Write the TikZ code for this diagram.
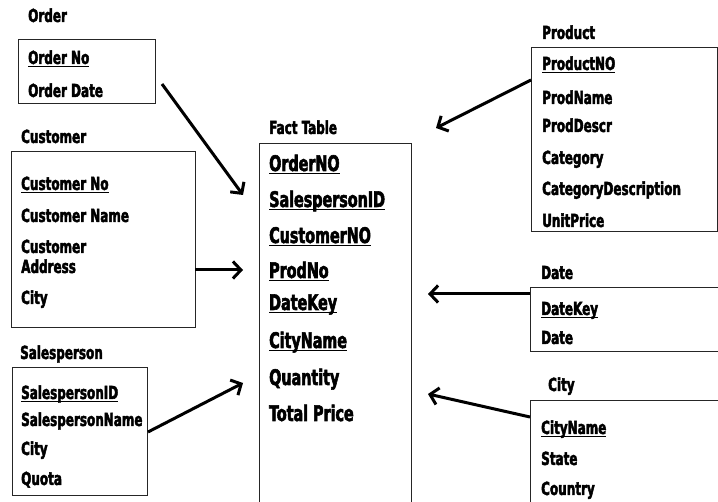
\documentclass[tikz,border=0pt]{standalone}
\usepackage{fontspec}
\setmainfont{DejaVu Sans Condensed}[FakeStretch=0.74, BoldFeatures={FakeBold=2.5}]
\usetikzlibrary{arrows.meta}
% underlined key attribute
\newcommand\keyattr[1]{\setbox0\hbox{#1}\rlap{\rule[-3pt]{\wd0}{1.3pt}}\box0}
\begin{document}
\begin{tikzpicture}[x=1pt,y=-1pt,
  lbl/.style={anchor=base west, inner sep=0pt, font=\bfseries\fontsize{18}{20}\selectfont},
  big/.style={anchor=base west, inner sep=0pt, font=\bfseries\fontsize{21.5}{23}\selectfont},
  tbl/.style={draw=black!85, line width=1pt, anchor=north west, inner sep=0pt, outer sep=0pt},
  link/.style={line width=3pt, -{Straight Barb[length=8pt,width=17pt]}}]
\useasboundingbox (0,0) rectangle (718,502);
\clip (0,0) rectangle (718,502);

% table frames
\node[tbl, minimum width=137pt, minimum height=64pt] (orderbox) at (18,40) {};
\node[tbl, minimum width=184pt, minimum height=176pt] (custbox) at (11,152) {};
\node[tbl, minimum width=135pt, minimum height=128pt] (salesbox) at (12,368) {};
\node[tbl, minimum width=152pt, minimum height=380pt] (factbox) at (259,144) {};
\node[tbl, minimum width=186pt, minimum height=184pt] (prodbox) at (531,48) {};
\node[tbl, minimum width=190pt, minimum height=64pt] (datebox) at (530,288) {};
\node[tbl, minimum width=190pt, minimum height=120pt] (citybox) at (530,401) {};

% Order
\node[lbl] (ordert) at (28,22) {Order};
\node[lbl] (order1) at (28,64) {\keyattr{Order No}};
\node[lbl] (order2) at (28,97) {Order Date};

% Customer
\node[lbl] (custt) at (21,143) {Customer};
\node[lbl] (cust1) at (21,190) {\keyattr{Customer No}};
\node[lbl] (cust2) at (21,222) {Customer Name};
\node[lbl] (cust3) at (21,253) {Customer};
\node[lbl] (cust3b) at (21,273) {Address};
\node[lbl] (cust4) at (21,304) {City};

% Salesperson
\node[lbl] (salest) at (20,359) {Salesperson};
\node[lbl] (sales1) at (21,399) {\keyattr{SalespersonID}};
\node[lbl] (sales2) at (21,426) {SalespersonName};
\node[lbl] (sales3) at (21,455) {City};
\node[lbl] (sales4) at (21,485) {Quota};

% Fact Table
\node[lbl] (factt) at (269,134) {Fact Table};
\node[big] (fact1) at (269,171) {\keyattr{OrderNO}};
\node[big] (fact2) at (269,207) {\keyattr{SalespersonID}};
\node[big] (fact3) at (269,243) {\keyattr{CustomerNO}};
\node[big] (fact4) at (269,278) {\keyattr{ProdNo}};
\node[big] (fact5) at (269,310) {\keyattr{DateKey}};
\node[big] (fact6) at (269,348) {\keyattr{CityName}};
\node[big] (fact7) at (269,385) {Quantity};
\node[big] (fact8) at (269,421) {Total Price};

% Product
\node[lbl] (prodt) at (542,39) {Product};
\node[lbl] (prod1) at (542,70) {\keyattr{ProductNO}};
\node[lbl] (prod2) at (542,104) {ProdName};
\node[lbl] (prod3) at (542,132) {ProdDescr};
\node[lbl] (prod4) at (542,164) {Category};
\node[lbl] (prod5) at (542,195) {CategoryDescription};
\node[lbl] (prod6) at (542,227) {UnitPrice};

% Date
\node[lbl] (datet) at (541,279) {Date};
\node[lbl] (date1) at (541,315) {\keyattr{DateKey}};
\node[lbl] (date2) at (541,344) {Date};

% City
\node[lbl] (cityt) at (548,391) {City};
\node[lbl] (city1) at (541,434) {\keyattr{CityName}};
\node[lbl] (city2) at (541,465) {State};
\node[lbl] (city3) at (541,495) {Country};

% connector end points
\coordinate (orderout) at (162,84);
\coordinate (orderin) at (243,195);
\coordinate (custout) at (195,270);
\coordinate (custin) at (243,270);
\coordinate (salesout) at (148,432);
\coordinate (salesin) at (243,383);
\coordinate (prodout) at (531,80);
\coordinate (prodin) at (436,128);
\coordinate (dateout) at (530,294);
\coordinate (datein) at (428,294);
\coordinate (cityout) at (530,417);
\coordinate (cityin) at (428,394);

% connectors
\draw[link] (orderout) -- (orderin);
\draw[link] (custout) -- (custin);
\draw[link] (salesout) -- (salesin);
\draw[link] (prodout) -- (prodin);
\draw[link] (dateout) -- (datein);
\draw[link] (cityout) -- (cityin);
\end{tikzpicture}
\end{document}
